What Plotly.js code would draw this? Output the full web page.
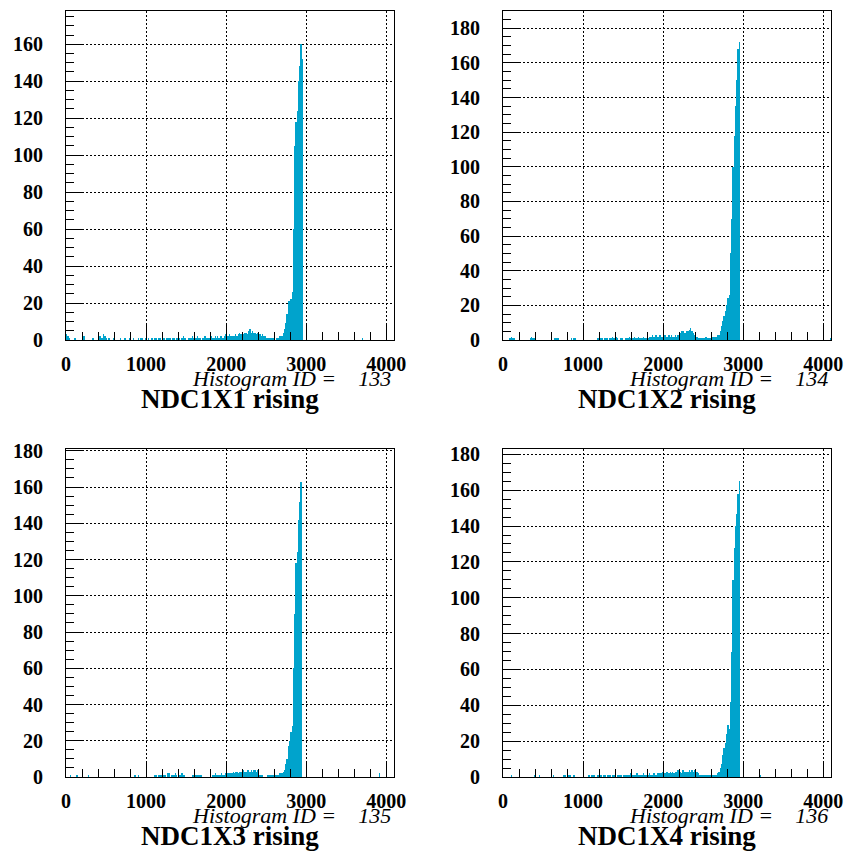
<!DOCTYPE html>
<html>
<head>
<meta charset="utf-8">
<script src="https://cdn.plot.ly/plotly-3.0.1.min.js"></script>
<style>html,body{margin:0;padding:0;background:#fff;}#chart{width:845px;height:853px;}</style>
</head>
<body>
<div id="chart"></div>
<script>
// Histogram binning (channels 0..4096, 16 channels per bin)
const binWidth = 16;
const xStart = 0;

// Counts per bin, 16 bins per row (each row = 256 channels)
const counts133 = [
  3,2,1,0,0,0,1,1,0,0,0,0,0,2,2,0,
  0,0,0,0,1,1,0,0,0,1,2,1,1,3,2,1,
  0,1,0,0,0,1,0,0,0,0,1,0,0,1,1,0,
  0,1,0,0,1,0,0,0,1,0,1,1,0,0,1,0,
  1,0,1,1,0,1,1,0,1,1,0,1,1,0,1,1,
  1,1,0,1,1,0,1,1,1,0,1,2,1,1,0,1,
  1,1,2,1,1,1,2,1,1,0,1,1,2,1,1,1,
  1,2,1,1,2,1,2,1,2,2,1,2,3,2,2,3,
  2,2,2,2,3,2,3,4,3,4,3,4,4,3,5,6,
  4,5,4,4,3,4,3,3,2,3,2,2,1,1,1,1,
  1,1,1,0,1,1,2,2,2,4,6,9,14,21,21,22,
  26,60,105,118,124,140,148,160,152,0,0,0,0,0,0,0,
  0,0,0,0,0,0,0,0,0,0,0,0,0,0,0,0,
  0,0,0,0,0,0,0,0,0,0,0,0,0,0,0,0,
  0,0,0,0,0,0,0,1,0,0,0,0,0,0,0,0,
  0,0,0,0,0,0,0,0,0,0,0,0,0,0,0,0
];
const counts134 = [
  0,0,0,0,0,1,2,1,1,0,0,0,0,0,0,0,
  0,0,0,0,0,1,2,1,1,1,0,0,0,0,0,0,
  0,0,0,0,0,0,0,0,1,1,1,1,0,0,0,0,
  0,0,0,0,0,1,0,1,1,0,0,0,0,0,0,0,
  0,0,0,0,0,0,0,0,0,1,1,0,1,1,0,1,
  1,1,0,1,1,2,1,1,2,1,0,1,1,1,0,1,
  1,1,2,1,1,1,2,1,1,2,1,1,1,2,1,1,
  2,1,2,2,3,2,2,3,2,2,3,2,2,4,3,2,
  2,3,2,3,2,2,3,2,3,3,4,5,5,4,4,5,
  5,6,7,5,4,3,2,2,1,1,1,1,1,1,2,1,
  1,1,1,2,2,2,2,3,3,5,8,11,14,17,20,24,
  26,50,70,100,118,135,150,168,172,0,0,0,0,0,0,0,
  0,0,0,0,0,0,0,0,0,0,0,0,0,0,0,0,
  0,0,0,0,0,0,0,0,0,0,0,0,0,0,0,0,
  0,0,0,0,0,0,0,0,0,0,0,0,0,0,0,0,
  0,0,0,0,0,0,0,0,0,0,0,0,0,0,0,1
];
const counts135 = [
  0,0,0,1,0,0,0,0,1,0,0,0,0,0,0,0,
  0,1,0,0,0,0,0,0,0,0,0,0,0,0,0,0,
  0,0,0,0,0,0,0,0,0,0,0,0,0,0,0,0,
  0,0,0,0,0,1,1,0,1,0,0,0,0,0,0,0,
  0,0,0,0,0,1,1,0,1,1,1,0,1,1,0,2,
  2,0,1,1,1,2,1,0,1,1,2,1,1,0,0,0,
  0,0,1,1,2,1,1,1,1,1,0,0,0,0,0,0,
  1,0,1,1,2,1,1,1,1,2,1,1,2,1,2,2,
  2,2,3,2,3,3,2,3,3,3,4,3,3,4,4,3,
  4,3,4,4,3,4,2,1,1,1,0,0,0,1,1,1,
  1,1,1,1,1,1,2,2,2,3,4,7,10,17,20,25,
  28,60,90,118,124,142,152,163,0,0,0,0,0,0,0,0,
  0,0,0,0,0,0,0,0,0,0,0,0,0,0,0,0,
  0,0,0,0,0,0,0,0,0,0,0,0,0,0,0,0,
  0,0,0,0,0,0,0,0,0,0,0,0,0,0,0,0,
  0,0,0,0,2,0,0,0,0,0,0,0,0,0,0,0
];
const counts136 = [
  0,0,0,0,0,0,1,0,0,0,0,0,0,0,0,0,
  0,0,0,0,0,0,0,0,1,0,0,0,1,0,0,0,
  0,0,0,0,0,0,0,1,0,0,0,0,0,0,0,1,
  1,0,0,1,1,0,0,1,0,0,0,0,0,0,0,0,
  0,0,1,1,0,1,1,1,0,1,1,0,1,0,1,1,
  0,1,1,1,0,1,1,1,0,1,1,1,1,0,1,1,
  1,1,1,2,1,1,1,1,2,1,1,1,1,2,1,1,
  1,1,2,1,1,2,2,1,2,2,2,2,3,2,2,3,
  3,2,3,2,3,2,3,3,4,3,3,2,4,3,3,3,
  3,4,3,4,3,4,3,3,2,1,1,1,1,1,1,1,
  1,1,1,1,1,1,1,2,3,5,7,12,16,19,24,29,
  27,42,70,110,128,140,147,158,165,0,0,0,0,0,0,0,
  0,0,0,0,0,0,0,0,1,0,0,0,0,0,0,0,
  0,0,0,0,0,0,0,0,0,0,0,0,0,0,0,0,
  0,0,0,0,0,0,0,0,0,0,0,0,0,0,0,0,
  0,0,0,0,0,0,0,0,0,0,0,0,0,0,0,0
];

const histIds = ['133', '134', '135', '136'];
const titles = ['NDC1X1 rising', 'NDC1X2 rising', 'NDC1X3 rising', 'NDC1X4 rising'];
const yMax = [178, 190, 181, 183];
const xMax = 4096;

// ---- layout geometry (pixels) ----
const W = 845, H = 853;
const panels = [
  {l: 66,  r: 394, t: 11,  b: 340},
  {l: 503, r: 831, t: 11,  b: 340},
  {l: 66,  r: 394, t: 449, b: 777},
  {l: 503, r: 831, t: 449, b: 777}
];
const allCounts = [counts133, counts134, counts135, counts136];
const barColor = 'rgb(0,163,204)';
const serif = 'Liberation Serif';

const data = allCounts.map((c, k) => ({
  type: 'bar',
  x: c.map((_, i) => xStart + binWidth * (i + 0.5)),
  y: c,
  width: binWidth,
  marker: {color: barColor, line: {width: 0}},
  xaxis: 'x' + (k === 0 ? '' : k + 1),
  yaxis: 'y' + (k === 0 ? '' : k + 1),
  hoverinfo: 'skip',
  showlegend: false
}));

function axisBase() {
  return {
    ticks: 'inside', ticklen: 16, tickwidth: 1, tickcolor: '#000',
    showgrid: true, gridcolor: '#000', gridwidth: 1, griddash: '2px,2px',
    showline: true, linecolor: '#000', linewidth: 1, mirror: true,
    zeroline: false, fixedrange: true,
    tickfont: {family: serif, size: 20, weight: 700, color: '#000'}
  };
}

const layout = {
  width: W, height: H,
  margin: {l: 0, r: 0, t: 0, b: 0},
  paper_bgcolor: '#fff', plot_bgcolor: '#fff',
  font: {family: serif, size: 20, color: '#000'},
  bargap: 0, barmode: 'overlay',
  showlegend: false,
  annotations: []
};

panels.forEach((p, k) => {
  const sfx = k === 0 ? '' : String(k + 1);
  const xd = [p.l / W, p.r / W];
  const yd = [1 - p.b / H, 1 - p.t / H];
  layout['xaxis' + sfx] = Object.assign(axisBase(), {
    domain: xd, anchor: 'y' + sfx, range: [0, xMax],
    tick0: 0, dtick: 1000, ticklabelstandoff: 6,
    minor: {dtick: 200, ticks: 'inside', ticklen: 8, tickwidth: 1, tickcolor: '#000', showgrid: false}
  });
  layout['yaxis' + sfx] = Object.assign(axisBase(), {
    domain: yd, anchor: 'x' + sfx, range: [0, yMax[k]],
    tick0: 0, dtick: 20, ticklabelstandoff: 18,
    minor: {dtick: 5, ticks: 'inside', ticklen: 8, tickwidth: 1, tickcolor: '#000', showgrid: false}
  });
  const idBase = p.b + 47, titleBase = p.b + 69;
  layout.annotations.push({
    xref: 'paper', yref: 'paper', x: (p.r - 1) / W, xanchor: 'right',
    y: 1 - (idBase + 0.216 * 22 + 1) / H, yanchor: 'bottom',
    text: 'Histogram ID =\u00a0\u00a0\u00a0 ' + histIds[k], showarrow: false,
    font: {family: serif, size: 22, style: 'italic', color: '#000'}
  });
  layout.annotations.push({
    xref: 'paper', yref: 'paper', x: (p.l + p.r) / 2 / W, xanchor: 'center',
    y: 1 - (titleBase + 0.216 * 27 + 1) / H, yanchor: 'bottom',
    text: titles[k], showarrow: false,
    font: {family: serif, size: 27, weight: 700, color: '#000'}
  });
});

Plotly.newPlot('chart', data, layout, {displayModeBar: false, staticPlot: true});
</script>
</body>
</html>
